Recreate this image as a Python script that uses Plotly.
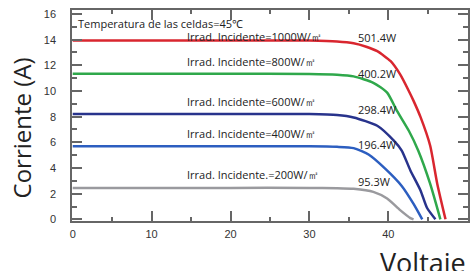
import plotly.graph_objects as go

# Data (Voltaje V, Corriente A)
v_1000 = [0, 20, 30, 33.5, 35.6, 37.2, 38.6, 40.3, 41.5, 42.6, 43.2, 44.1, 45.3, 46.2, 47.25]
i_1000 = [13.94, 13.94, 13.93, 13.86, 13.72, 13.45, 13.1, 12.32, 11.29, 10.0, 9.23, 7.94, 5.75, 2.78, 0]

v_800 = [0, 20, 30, 33.5, 35.6, 38.1, 39.85, 41.1, 42.6, 43.8, 45.3, 46.6]
i_800 = [11.34, 11.34, 11.33, 11.27, 11.14, 10.64, 9.87, 8.45, 6.9, 5.35, 2.78, 0]

v_600 = [0, 20, 30, 33.5, 35.6, 38.6, 40.7, 41.7, 42.8, 44.07, 44.9, 45.97]
i_600 = [8.21, 8.21, 8.2, 8.13, 7.94, 7.29, 6.13, 5.36, 3.81, 2.27, 0.9, 0]

v_400 = [0, 20, 30, 33.5, 35.6, 37.5, 39.6, 41.7, 43.2, 44.3]
i_400 = [5.7, 5.7, 5.69, 5.65, 5.55, 5.05, 3.95, 2.6, 1.2, 0]

v_200 = [0, 20, 30, 33.5, 35.6, 38.1, 39.85, 41.5, 42.8, 43.2]
i_200 = [2.45, 2.45, 2.45, 2.43, 2.38, 2.14, 1.62, 0.72, 0.1, 0]

series_v = [v_1000, v_800, v_600, v_400, v_200]
series_i = [i_1000, i_800, i_600, i_400, i_200]
colors = ["#d9262f", "#2fa84b", "#28338c", "#2c5ec0", "#9a9a9e"]

irr_labels = ["Irrad. Incidente=1000W/㎡", "Irrad. Incidente=800W/㎡",
              "Irrad. Incidente=600W/㎡", "Irrad. Incidente=400W/㎡",
              "Irrad. Incidente.=200W/㎡"]
irr_label_y = [14.22, 12.32, 9.17, 6.70, 3.50]
irr_label_x = 14.25

power_labels = ["501.4W", "400.2W", "298.4W", "196.4W", "95.3W"]
power_label_y = [14.18, 11.34, 8.58, 5.8, 2.96]
power_label_x = 35.9

temp_label = "Temperatura de las celdas=45℃"

x_ticks = [0, 10, 20, 30, 40, 50]
y_ticks = [0, 2, 4, 6, 8, 10, 12, 14, 16]

fig = go.Figure()
for v, i, c in zip(series_v, series_i, colors):
    fig.add_trace(go.Scatter(x=v, y=i, mode="lines",
                             line=dict(color=c, width=2.5, shape="spline", smoothing=0.6),
                             showlegend=False, hoverinfo="skip"))

txt_font = dict(family="Open Sans, sans-serif", size=11, color="#222")
annotations = []
for t, y in zip(irr_labels, irr_label_y):
    annotations.append(dict(x=irr_label_x, y=y, text=t, showarrow=False,
                            xanchor="left", yanchor="middle", font=txt_font))
for t, y in zip(power_labels, power_label_y):
    annotations.append(dict(x=power_label_x, y=y, text=t, showarrow=False,
                            xanchor="left", yanchor="middle", font=txt_font))
annotations.append(dict(x=0.38, y=15.22, text=temp_label, showarrow=False,
                        xanchor="left", yanchor="middle", font=txt_font))
annotations.append(dict(xref="paper", yref="paper", x=-0.128, y=0.44,
                        text="Corriente (A)", textangle=-90, showarrow=False,
                        xanchor="center", yanchor="middle",
                        font=dict(family="Open Sans, sans-serif", size=24, color="#222")))
annotations.append(dict(xref="paper", yref="paper", x=1.0, y=-0.10,
                        text="Voltaje", showarrow=False,
                        xanchor="right", yanchor="top",
                        font=dict(family="Open Sans, sans-serif", size=27, color="#222")))

axis_common = dict(showgrid=False, zeroline=False, showline=True, linecolor="#666",
                   linewidth=1.5, mirror="allticks", ticks="inside", tickcolor="#666",
                   tickwidth=1.5, ticklen=10, automargin=False,
                   tickfont=dict(family="Liberation Sans, Arial, sans-serif", size=11, color="#333"))

fig.update_xaxes(range=[-0.09, 50.1], tickvals=x_ticks, ticklabelstandoff=2,
                 minor=dict(ticks="inside", dtick=5, ticklen=4, tickcolor="#666", tickwidth=1.5),
                 **axis_common)
fig.update_yaxes(range=[-0.13, 16.31], tickvals=y_ticks, ticklabelstandoff=12,
                 minor=dict(ticks="inside", dtick=1, ticklen=5, tickcolor="#666", tickwidth=1.5),
                 **axis_common)

fig.update_layout(width=471, height=271, margin=dict(l=72, r=3, t=10, b=50),
                  paper_bgcolor="white", plot_bgcolor="white",
                  annotations=annotations)

fig.write_html("out.html", config={"displayModeBar": False},
               post_script="document.body.style.margin='0';document.body.style.overflow='hidden';")
